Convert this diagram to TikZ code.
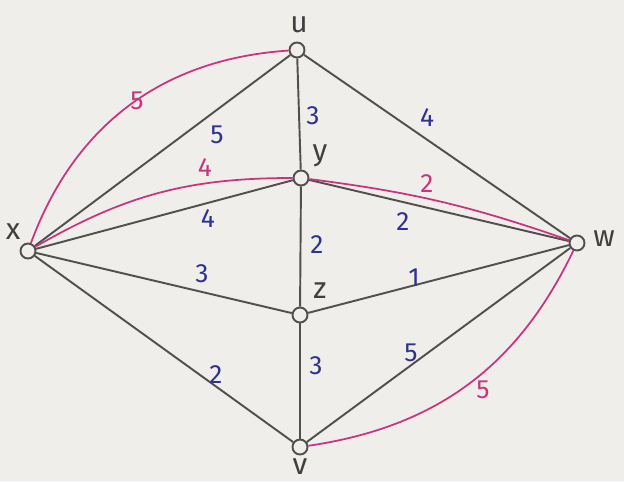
\documentclass[tikz,border=0pt]{standalone}
\usepackage{fontspec}
\setmainfont{Fira Sans}
\definecolor{paper}{HTML}{EFEEEB}
\definecolor{edgegray}{HTML}{505050}
\definecolor{wblue}{HTML}{2E3190}
\definecolor{pmag}{HTML}{C8347E}
\begin{document}
\begin{tikzpicture}[x=0.02cm,y=-0.02cm,
  vtx/.style={circle,draw=edgegray,fill=paper,line width=1.1pt,minimum size=0.3cm,inner sep=0pt},
  edge/.style={draw=edgegray,line width=1.1pt},
  medge/.style={draw=pmag,line width=1pt},
  wt/.style={text=wblue,font=\fontsize{15}{15}\selectfont,inner sep=0pt},
  mwt/.style={text=pmag,font=\fontsize{15}{15}\selectfont,inner sep=0pt},
  vlab/.style={text=edgegray!80!black,font=\fontsize{17}{17}\selectfont,inner sep=0pt}]
\fill[paper] (0,0) rectangle (624,481);
\useasboundingbox (0,0) rectangle (624,481);
% vertices
\node[vtx] (x) at (28,251) {};
\node[vtx] (u) at (297,50) {};
\node[vtx] (y) at (301,178) {};
\node[vtx] (z) at (300,315) {};
\node[vtx] (v) at (300,447) {};
\node[vtx] (w) at (577,243) {};
% vertex labels
\node[vlab] (lx) at (13,232) {x};
\node[vlab] (lu) at (299,25) {u};
\node[vlab] (ly) at (320,156) {y};
\node[vlab] (lz) at (320,291) {z};
\node[vlab] (lw) at (604,239) {w};
\node[vlab] (lv) at (300,467) {v};
% edges
\draw[edge] (x) -- (u);
\draw[edge] (x) -- (y);
\draw[edge] (x) -- (z);
\draw[edge] (x) -- (v);
\draw[edge] (u) -- (y);
\draw[edge] (y) -- (z);
\draw[edge] (z) -- (v);
\draw[edge] (u) -- (w);
\draw[edge] (y) -- (w);
\draw[edge] (z) -- (w);
\draw[edge] (v) -- (w);
% magenta curves
\draw[medge] (x) to[bend left=33] (u);
\draw[medge] (x) to[bend left=15] (y);
\draw[medge] (y) to[bend left=6] (w);
\draw[medge] (v) to[bend right=28] (w);
% weights
\node[wt] (w1) at (217,135) {5};
\node[wt] (w2) at (313,116) {3};
\node[wt] (w3) at (427,118) {4};
\node[wt] (w4) at (208,219) {4};
\node[wt] (w5) at (403,222) {2};
\node[wt] (w6) at (317,245) {2};
\node[wt] (w7) at (202,274) {3};
\node[wt] (w8) at (414,278) {1};
\node[wt] (w9) at (216,375) {2};
\node[wt] (w10) at (316,366) {3};
\node[wt] (w11) at (411,353) {5};
\node[mwt] (m1) at (137,101) {5};
\node[mwt] (m2) at (205,168) {4};
\node[mwt] (m3) at (427,184) {2};
\node[mwt] (m4) at (483,390) {5};
\end{tikzpicture}
\end{document}
